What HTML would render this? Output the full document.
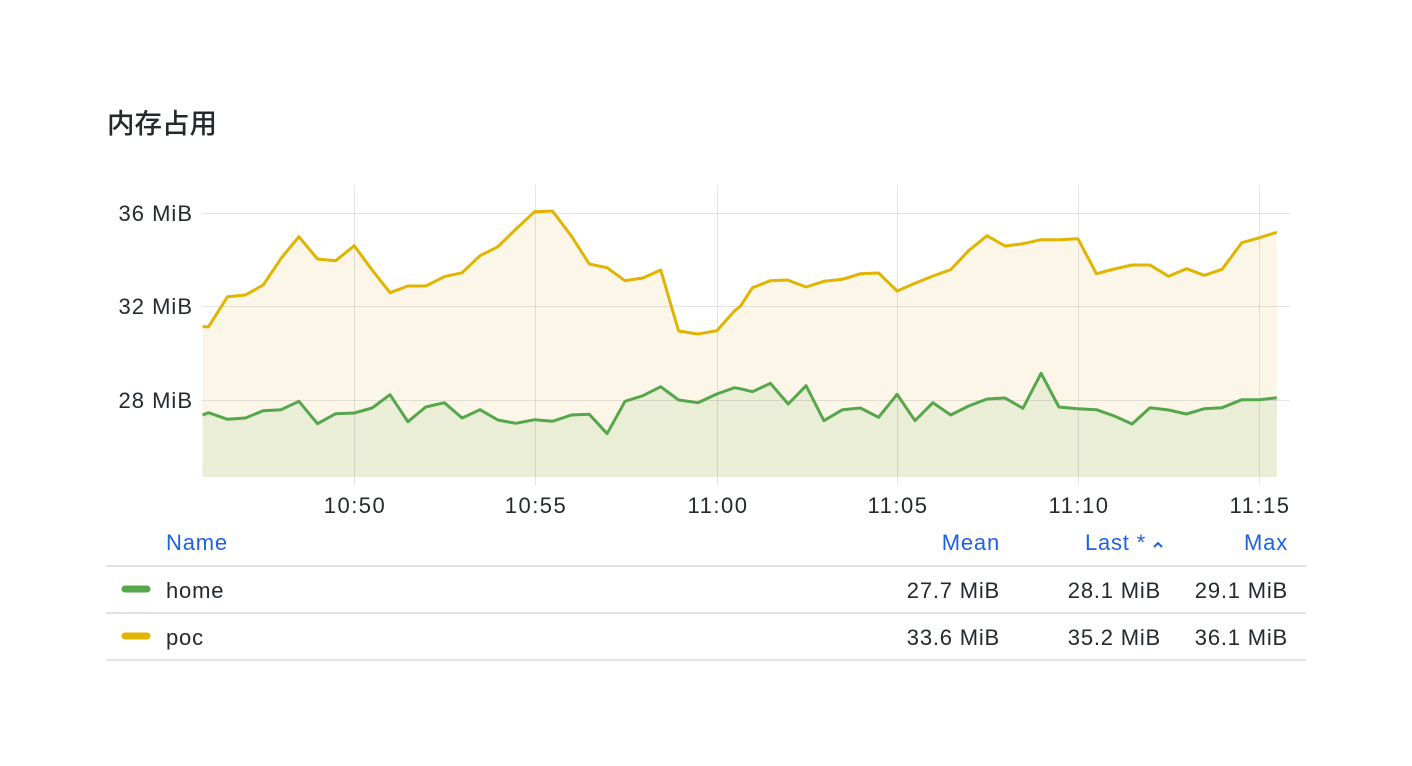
<!DOCTYPE html>
<html><head><meta charset="utf-8"><style>
html,body{margin:0;padding:0;background:#fff;}
svg{display:block;}
text{font-family:"Liberation Sans","Noto Sans CJK SC",sans-serif;}
</style></head><body>
<svg width="1412" height="766" viewBox="0 0 1412 766" xmlns="http://www.w3.org/2000/svg">
<rect width="1412" height="766" fill="#fff"/>
<text x="107" y="133" font-size="27.5" font-weight="500" fill="#24292e" style="font-family:'Noto Sans CJK SC','Liberation Sans',sans-serif">内存占用</text>

<polygon fill="#fcf6e9" points="202.5,477 202.5,326.7 208.6,326.7 227.5,296.7 245.4,295 263.2,285 281.1,258.3 298.9,236.7 317.5,259 335.7,260.7 354.3,245.7 372.1,270 390,292.7 407.9,286 425.7,286 444.3,276.7 462.1,272.7 480,255.7 497.9,246.7 515.7,229.3 534.6,211.7 552.5,211 571.4,236 589.3,264 607.1,267.7 625,280.7 642.9,278 660.7,270 678.6,331 697.9,334 716.8,330.7 734.6,310.7 740,306.7 752.5,287.7 770.4,280.7 787.5,280 806.1,287 823.9,281.3 842.5,279.3 860.4,273.7 878.6,273 897.1,291 915,283.3 932.9,276 950.7,269.7 968.6,250.7 987.1,235.7 1005,246 1022.9,243.7 1041.1,239.7 1058.9,239.7 1077.9,238.7 1096.4,273.7 1114.3,269 1132.1,265 1150,265 1168.6,276.3 1186.4,268.7 1204.3,275.3 1222.1,269.3 1241.8,242.7 1259.6,237.7 1276.8,232.3 1276.8,477"/>
<polygon fill="#ebeed7" points="202.5,477 202.5,415 208.6,412.7 227.5,419.3 245.4,418 263.2,410.7 281.1,409.7 298.9,401.3 317.5,423.7 335.7,413.7 354.3,413 372.1,408 390,394.7 407.9,421.7 425.7,407 444.3,402.7 462.1,418 480,409.7 497.9,420 515.7,423.3 534.6,419.7 552.5,421.3 571.4,415 589.3,414.3 607.1,433.7 625,401.3 642.9,395.7 660.7,386.7 678.6,400 697.9,402.7 716.8,394 734.6,387.7 740,388.7 752.5,391.7 770.4,383.3 788.2,404 806.1,385.7 823.9,420.7 842.5,409.7 860.4,408 878.6,417.3 897.1,394.3 915,420.7 932.9,402.7 950.7,415 968.6,406 987.1,399 1005,398 1022.9,408.3 1041.1,373.3 1058.9,407 1077.9,408.7 1096.4,409.7 1114.3,416 1132.1,424 1150,407.7 1168.6,410 1186.4,414 1204.3,408.7 1222.1,407.7 1241.8,399.7 1259.6,399.7 1276.8,397.7 1276.8,477"/>

<g stroke="#000" stroke-opacity="0.1" stroke-width="1">
<line x1="202" y1="213.5" x2="1290" y2="213.5"/>
<line x1="202" y1="306.5" x2="1290" y2="306.5"/>
<line x1="202" y1="400.5" x2="1290" y2="400.5"/>
<line x1="354.5" y1="185" x2="354.5" y2="485"/>
<line x1="535.5" y1="185" x2="535.5" y2="485"/>
<line x1="717.5" y1="185" x2="717.5" y2="485"/>
<line x1="897.5" y1="185" x2="897.5" y2="485"/>
<line x1="1078.5" y1="185" x2="1078.5" y2="485"/>
<line x1="1259.5" y1="185" x2="1259.5" y2="485"/>
</g>

<polyline fill="none" stroke="#e0b400" stroke-width="3" stroke-linejoin="round" points="202.5,326.7 208.6,326.7 227.5,296.7 245.4,295 263.2,285 281.1,258.3 298.9,236.7 317.5,259 335.7,260.7 354.3,245.7 372.1,270 390,292.7 407.9,286 425.7,286 444.3,276.7 462.1,272.7 480,255.7 497.9,246.7 515.7,229.3 534.6,211.7 552.5,211 571.4,236 589.3,264 607.1,267.7 625,280.7 642.9,278 660.7,270 678.6,331 697.9,334 716.8,330.7 734.6,310.7 740,306.7 752.5,287.7 770.4,280.7 787.5,280 806.1,287 823.9,281.3 842.5,279.3 860.4,273.7 878.6,273 897.1,291 915,283.3 932.9,276 950.7,269.7 968.6,250.7 987.1,235.7 1005,246 1022.9,243.7 1041.1,239.7 1058.9,239.7 1077.9,238.7 1096.4,273.7 1114.3,269 1132.1,265 1150,265 1168.6,276.3 1186.4,268.7 1204.3,275.3 1222.1,269.3 1241.8,242.7 1259.6,237.7 1276.8,232.3"/>
<polyline fill="none" stroke="#56a64b" stroke-width="3" stroke-linejoin="round" points="202.5,415 208.6,412.7 227.5,419.3 245.4,418 263.2,410.7 281.1,409.7 298.9,401.3 317.5,423.7 335.7,413.7 354.3,413 372.1,408 390,394.7 407.9,421.7 425.7,407 444.3,402.7 462.1,418 480,409.7 497.9,420 515.7,423.3 534.6,419.7 552.5,421.3 571.4,415 589.3,414.3 607.1,433.7 625,401.3 642.9,395.7 660.7,386.7 678.6,400 697.9,402.7 716.8,394 734.6,387.7 740,388.7 752.5,391.7 770.4,383.3 788.2,404 806.1,385.7 823.9,420.7 842.5,409.7 860.4,408 878.6,417.3 897.1,394.3 915,420.7 932.9,402.7 950.7,415 968.6,406 987.1,399 1005,398 1022.9,408.3 1041.1,373.3 1058.9,407 1077.9,408.7 1096.4,409.7 1114.3,416 1132.1,424 1150,407.7 1168.6,410 1186.4,414 1204.3,408.7 1222.1,407.7 1241.8,399.7 1259.6,399.7 1276.8,397.7"/>

<g font-size="22" fill="#24292e" text-anchor="end" letter-spacing="1">
<text x="193" y="221">36 MiB</text>
<text x="193" y="314">32 MiB</text>
<text x="193" y="408">28 MiB</text>
</g>
<g font-size="22" fill="#24292e" text-anchor="middle" letter-spacing="1.5">
<text x="355" y="513">10:50</text>
<text x="536" y="513">10:55</text>
<text x="718" y="513">11:00</text>
<text x="898" y="513">11:05</text>
<text x="1079" y="513">11:10</text>
<text x="1260" y="513">11:15</text>
</g>

<g font-size="22" fill="#1f62e0" letter-spacing="0.8">
<text x="166" y="550">Name</text>
<text x="1000" y="550" text-anchor="end">Mean</text>
<text x="1146" y="550" text-anchor="end">Last *</text>
<path d="M1154,547 L1158,543 L1162,547" fill="none" stroke="#1f62e0" stroke-width="2"/>
<text x="1288" y="550" text-anchor="end">Max</text>
</g>
<g stroke="#e2e2e2" stroke-width="2">
<line x1="106" y1="566" x2="1306" y2="566"/>
<line x1="106" y1="613" x2="1306" y2="613"/>
<line x1="106" y1="660" x2="1306" y2="660"/>
</g>
<line x1="125" y1="589" x2="147" y2="589" stroke="#56a64b" stroke-width="7" stroke-linecap="round"/>
<line x1="125" y1="636" x2="147" y2="636" stroke="#e0b400" stroke-width="7" stroke-linecap="round"/>
<g font-size="22" fill="#24292e" letter-spacing="0.8">
<text x="166" y="598">home</text>
<text x="166" y="645">poc</text>
<g text-anchor="end">
<text x="1000" y="598">27.7 MiB</text>
<text x="1161" y="598">28.1 MiB</text>
<text x="1288" y="598">29.1 MiB</text>
<text x="1000" y="645">33.6 MiB</text>
<text x="1161" y="645">35.2 MiB</text>
<text x="1288" y="645">36.1 MiB</text>
</g>
</g>
</svg>
</body></html>
